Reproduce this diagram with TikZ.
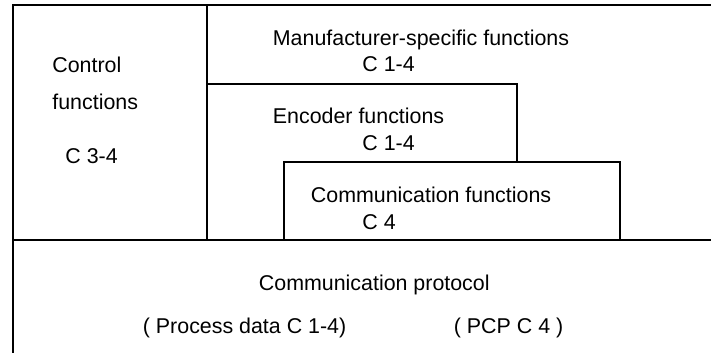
\documentclass[tikz,border=0pt]{standalone}
\usepackage{fontspec}
\setmainfont{Liberation Sans}
\usetikzlibrary{positioning}

\begin{document}
\begin{tikzpicture}[
    x=0.5pt, y=-0.5pt,
    frame/.style={draw=black, line width=1pt},
    label/.style={anchor=base west, inner sep=0pt, font=\fontsize{10.7}{13}\selectfont}
]
\useasboundingbox (0,0) rectangle (711,353);

% Frame lines
\draw[frame] (711,5) -- (13,5) -- (13,353);
\draw[frame] (207,5) -- (207,240);
\draw[frame] (13,240) -- (711,240);
\draw[frame] (207,84) -- (517,84) -- (517,162);
\draw[frame] (284,240) -- (284,162) -- (620,162) -- (620,240);

% Texts
\node[label] (ctrl) at (52,72.5) {Control};
\node[label] (ctrlfn) at (52,110) {functions};
\node[label] (ctrlc) at (65,163) {C 3-4};

\node[label] (manuf) at (272.5,45.5) {Manufacturer-specific functions};
\node[label] (manufc) at (362,71.5) {C 1-4};

\node[label] (enc) at (272.5,124) {Encoder functions};
\node[label] (encc) at (362,150) {C 1-4};

\node[label] (comm) at (310.5,202.5) {Communication functions};
\node[label] (commc) at (362,229) {C 4};

\node[label] (proto) at (258.5,290.5) {Communication protocol};
\node[label] (pdata) at (142.5,333.5) {( Process data C 1-4)};
\node[label] (pcp) at (453.5,333.5) {( PCP C 4 )};

\end{tikzpicture}
\end{document}
